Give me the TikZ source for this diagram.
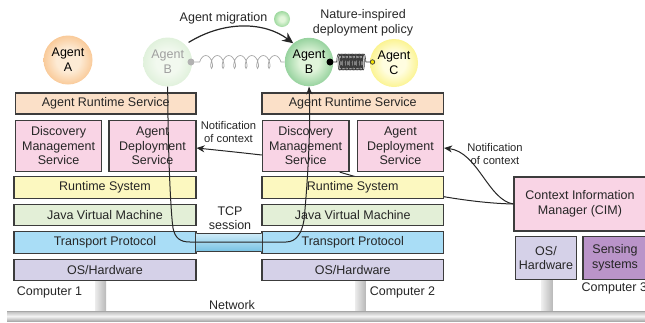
\documentclass[tikz,border=0pt]{standalone}
\usepackage{fontspec}
\setmainfont{Liberation Sans}
\usetikzlibrary{arrows.meta,decorations.pathmorphing,calc}
\definecolor{bordercol}{HTML}{3C3C3C}
\definecolor{arscol}{HTML}{FBE0C8}
\definecolor{pinkcol}{HTML}{F9D4E5}
\definecolor{rscol}{HTML}{FCF8C0}
\definecolor{jvmcol}{HTML}{E3EFD7}
\definecolor{tpcol}{HTML}{A9DDF6}
\definecolor{oscol}{HTML}{D5D1E8}
\definecolor{sensecol}{HTML}{BA94C9}
\definecolor{tubetop}{HTML}{CDEBF8}
\definecolor{tubebot}{HTML}{78C2E3}
\definecolor{agAin}{HTML}{FDEBD5}
\definecolor{agAout}{HTML}{F28C28}
\definecolor{gBin}{HTML}{F2F9EF}
\definecolor{gBout}{HTML}{BFE2B8}
\definecolor{Bin}{HTML}{E0F4DA}
\definecolor{Bout}{HTML}{1E9B3C}
\definecolor{Cin}{HTML}{FFFDE0}
\definecolor{Cout}{HTML}{F4E200}
\definecolor{ballin}{HTML}{E2F6DA}
\definecolor{ballout}{HTML}{3DB04A}
\pgfdeclareradialshading{shA}{\pgfpoint{0bp}{0bp}}{color(0bp)=(agAin); color(12bp)=(agAin); color(50bp)=(agAout)}
\pgfdeclareradialshading{shgB}{\pgfpoint{0bp}{0bp}}{color(0bp)=(gBin); color(12bp)=(gBin); color(50bp)=(gBout)}
\pgfdeclareradialshading{shB}{\pgfpoint{0bp}{0bp}}{color(0bp)=(Bin); color(10bp)=(Bin); color(50bp)=(Bout)}
\pgfdeclareradialshading{shC}{\pgfpoint{0bp}{0bp}}{color(0bp)=(Cin); color(12bp)=(Cin); color(50bp)=(Cout)}
\pgfdeclareradialshading{shball}{\pgfpoint{0bp}{0bp}}{color(0bp)=(ballin); color(8bp)=(ballin); color(50bp)=(ballout)}
\pgfdeclarelayer{bg}
\pgfsetlayers{bg,main}
\newcommand\bxfont{\fontsize{12.5}{14.5}\selectfont}
\newcommand\smfont{\fontsize{11.2}{13}\selectfont}
\begin{document}
\begin{tikzpicture}[x=1pt,y=-1pt,
  lay/.style={draw=bordercol, line width=1.2pt, inner sep=0pt, align=center, font=\bxfont, text=black!85},
  conn/.style={draw=black!85, line width=1pt},
  agent/.style={circle, minimum size=49pt, inner sep=0pt, align=center, font=\fontsize{12.5}{15}\selectfont},
  lbl/.style={font=\bxfont, inner sep=0pt, align=center, text=black!85},
  small/.style={font=\smfont, inner sep=0pt, align=center, text=black!85},
  pole/.style={left color=gray!15, right color=gray!55},
  tip/.style={-{Stealth[length=8pt,width=7pt]}}]
\useasboundingbox (0,0) rectangle (645,322);

% Computer 1
\node[lay, fill=arscol, minimum width=180.5pt, minimum height=21pt] (ars1) at (105.75,103.5) {Agent Runtime Service};
\node[lay, fill=pinkcol, minimum width=86pt, minimum height=51pt] (dms1) at (58.6,146) {Discovery\\Management\\Service};
\node[lay, fill=pinkcol, minimum width=87pt, minimum height=51pt] (ads1) at (152.5,146) {Agent\\Deployment\\Service};
\node[lay, fill=rscol, minimum width=182pt, minimum height=21.5pt] (rs1) at (105,187.5) {Runtime System};
\node[lay, fill=jvmcol, minimum width=182pt, minimum height=21.5pt] (jvm1) at (105,215) {Java Virtual Machine};
\node[lay, fill=tpcol, minimum width=182pt, minimum height=21.5pt] (tp1) at (105,242.5) {Transport Protocol};
\node[lay, fill=oscol, minimum width=182pt, minimum height=21pt] (os1) at (105,269.7) {OS/Hardware};

% Computer 2
\node[lay, fill=arscol, minimum width=181.5pt, minimum height=21pt] (ars2) at (352.75,103.5) {Agent Runtime Service};
\node[lay, fill=pinkcol, minimum width=86.7pt, minimum height=51pt] (dms2) at (305.7,146) {Discovery\\Management\\Service};
\node[lay, fill=pinkcol, minimum width=86.2pt, minimum height=51pt] (ads2) at (400.4,146) {Agent\\Deployment\\Service};
\node[lay, fill=rscol, minimum width=181.5pt, minimum height=21.5pt] (rs2) at (352.75,187.5) {Runtime System};
\node[lay, fill=jvmcol, minimum width=181.5pt, minimum height=21.5pt] (jvm2) at (352.75,215) {Java Virtual Machine};
\node[lay, fill=tpcol, minimum width=181.5pt, minimum height=21.5pt] (tp2) at (352.75,242.5) {Transport Protocol};
\node[lay, fill=oscol, minimum width=181.5pt, minimum height=21pt] (os2) at (352.75,269.7) {OS/Hardware};

% Computer 3
\node[lay, fill=pinkcol, minimum width=132pt, minimum height=54pt] (cim) at (580,204) {Context Information\\Manager (CIM)};
\node[lay, fill=oscol, minimum width=61.7pt, minimum height=42.6pt] (os3) at (546,258) {OS/\\Hardware};
\node[lay, fill=sensecol, minimum width=64pt, minimum height=42.6pt] (sense) at (615,258) {Sensing\\systems};

% network, poles, background connector
\begin{pgfonlayer}{bg}
  \shade[pole] (95,280) rectangle (106,312);
  \shade[pole] (355,280) rectangle (365.5,312);
  \shade[pole] (541.7,279) rectangle (552.7,312);
  \shade[top color=gray!50, bottom color=gray!65, middle color=gray!8] (7,311.5) rectangle (650,321);
  \draw[gray!70, line width=0.6pt] (7,311.5) -- (650,311.5);
  \draw[conn] ([xshift=-10pt]dms2.south east) .. controls (400,190) and (465,203) .. (cim.west);
\end{pgfonlayer}

% TCP tube
\shade[top color=tubetop, bottom color=tubebot] (tp1.east |- 0,233.5) rectangle (tp2.west |- 0,251);
\draw[bordercol, line width=1pt] (tp1.east |- 0,233.5) -- (tp2.west |- 0,233.5);
\draw[bordercol, line width=1pt] (tp1.east |- 0,251) -- (tp2.west |- 0,251);

% labels
\node[lbl] (comp1) at (49.5,292) {Computer 1};
\node[lbl] (comp2) at (402.5,292.5) {Computer 2};
\node[lbl, anchor=west] (comp3) at (581.5,288) {Computer 3};
\node[lbl] (net) at (232,305) {Network};
\node[lbl, font=\fontsize{12.5}{13.5}\selectfont] (tcp) at (230,218.3) {TCP\\session};
\node[small] (notif1) at (228.5,131.5) {Notification\\of context};
\node[small] (notif2) at (495,153.5) {Notification\\of context};
\node[lbl] (migtxt) at (223.5,18) {Agent migration};
\node[lbl, font=\fontsize{12.5}{15}\selectfont] (nattxt) at (363,22.5) {Nature-inspired\\deployment policy};

% agents
\node[agent, shading=shA] (agA) at (68,60) {Agent\\A};
\node[agent, shading=shgB, text=gray!75] (gB) at (167.7,62) {Agent\\B};
\node[agent, shading=shB, minimum size=48.5pt] (B) at (309,62) {Agent\\B};
\node[agent, shading=shC, minimum size=48pt] (agC) at (394,63) {Agent\\C};
\node[circle, shading=shball, minimum size=16pt, inner sep=0pt] (ball) at (282,19) {};

% springs
\node[circle, fill=gray!60, minimum size=7pt, inner sep=0pt] (gdot) at (191,62) {};
\node[circle, fill=black, minimum size=7pt, inner sep=0pt] (bdot) at (330,62) {};
\node[circle, draw=bordercol, fill=Cout, line width=0.7pt, minimum size=4.5pt, inner sep=0pt] (cring) at (372.5,62) {};
\draw[gray!70, line width=0.7pt, decorate, decoration={coil, amplitude=6.5pt, segment length=11.5pt, aspect=0.5, pre length=5pt, post length=1pt}] (gdot.east) -- (B.west);
\draw[bordercol, line width=0.6pt, decorate, decoration={coil, amplitude=8pt, segment length=1.4pt, aspect=0.2, pre length=3pt, post length=4pt}] (bdot.east) -- (cring.west);

% migration arrow
\draw[conn, line width=1.2pt, -{Stealth[length=11pt,width=10pt]}, shorten <=4pt] (gB.45) .. controls (225,20) and (265,22) .. (B.130);

% migration path through TCP session
\draw[conn, -{Stealth[length=8pt,width=6pt]}] (gB.south) .. controls (168,160) and (171,215) .. (173,228) .. controls (175,238) and (180,242) .. (190,242) -- (286,242) .. controls (297,242) and (302,232) .. (304,220) .. controls (307,190) and (311,130) .. (B.south);

% notifications
\draw[conn, tip] ([yshift=-9pt]dms2.west) .. controls (235,152) .. ([yshift=-2pt]ads1.east);
\draw[conn, tip] (cim.west) .. controls (488,200) and (478,152) .. ([yshift=-2pt]ads2.east);
\end{tikzpicture}
\end{document}
